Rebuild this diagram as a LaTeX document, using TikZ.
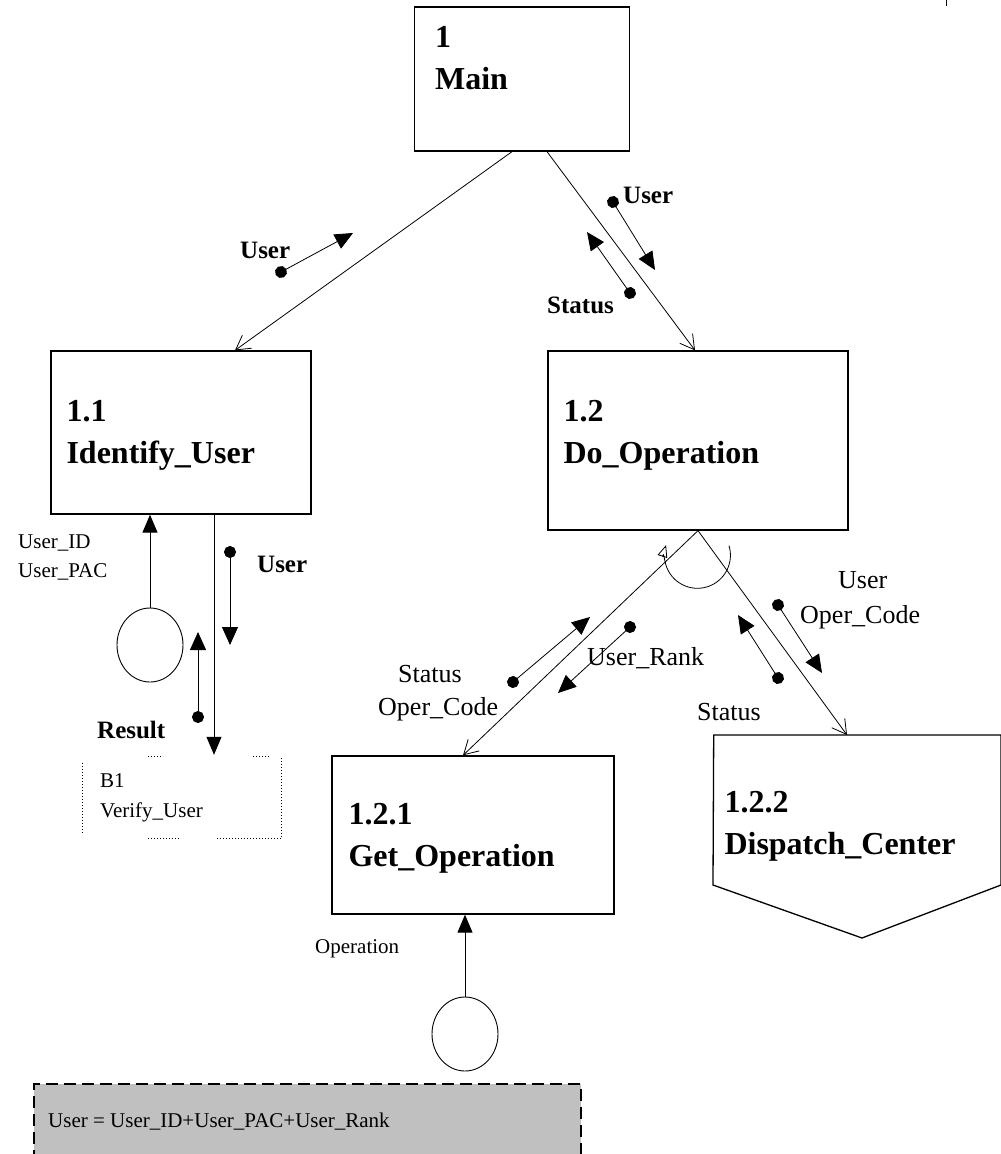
\documentclass[tikz,border=0pt]{standalone}
\usepackage{fontspec}
\setmainfont{Liberation Serif}
\usetikzlibrary{arrows.meta,calc,positioning,shapes.geometric}
\definecolor{dictgray}{RGB}{192,192,192}

\begin{document}
\begin{tikzpicture}
 [x=1pt,y=-1pt,
  module/.style={draw,line width=1.3pt,inner sep=0pt},
  modname/.style={anchor=base west,inner sep=0pt,font=\bfseries\fontsize{32}{32}\selectfont},
  flow/.style={anchor=base west,inner sep=0pt,font=\fontsize{26}{26}\selectfont},
  flowb/.style={flow,font=\bfseries\fontsize{25}{25}\selectfont},
  smalltext/.style={anchor=base west,inner sep=0pt,font=\fontsize{21}{21}\selectfont},
  call/.style={line width=0.8pt,-{Straight Barb[length=14pt,width=16pt]}},
  couple/.style={line width=0.8pt,shorten <=-6pt,{Circle[length=12pt]}-{Triangle[length=18pt,width=16pt]}},
  term/.style={draw,ellipse,line width=0.9pt,minimum width=66pt,minimum height=74pt,inner sep=0pt},
  datain/.style={line width=1pt,-{Triangle[length=18pt,width=15pt]}},
  libline/.style={dotted,line width=1pt},
  dictbox/.style={draw,fill=dictgray,line width=1.6pt,dash pattern=on 12pt off 6pt,inner sep=0pt}]
 \useasboundingbox (0,0) rectangle (1001,1154);
 \node[module,minimum width=215pt,minimum height=144pt] (main) at (522,79) {};
 \node[module,minimum width=260pt,minimum height=163pt] (idu) at (181,432.5) {};
 \node[module,minimum width=300pt,minimum height=179pt] (dop) at (698,440.5) {};
 \node[module,minimum width=282pt,minimum height=158pt] (gop) at (473,835) {};
 \node[inner sep=0pt] (dsp) at (713,735) {};
 \coordinate (dsp-in) at ($(dsp)+(134,0)$);
 \draw[module] (dsp) -- ++(288,0) -- ++(0,150) -- ++(-139,53) -- ++(-149,-53) -- cycle;
 \foreach \n/\dx/\dy/\num/\txt in {main/21/41/1/Main,idu/16/71/1.1/Identify\_User,dop/16/71/1.2/Do\_Operation,gop/17/69/1.2.1/Get\_Operation,dsp/12/78/1.2.2/Dispatch\_Center}
 {
  \node[modname] (\n-num) at ($(\n.north west)+(\dx,\dy)$) {\num};
  \node[modname] (\n-txt) at ($(\n.north west)+(\dx,\dy+42)$) {\txt};
 }
 \node[minimum width=199pt,minimum height=83pt,inner sep=0pt] (ver) at (181.5,796.5) {};
 \foreach \ax/\ay/\bx/\by in {148/756/163/756,253/756/270/756,148/838/180/838,217/838/282/838,82/763/82/833,281/758/281/838}
  \draw[libline] (\ax,\ay) -- (\bx,\by);
 \node[smalltext] (ver-num) at (100,787) {B1};
 \node[smalltext] (ver-txt) at (100,817) {Verify\_User};
 \node[term] (src1) at (150,645) {};
 \node[term] (src2) at (465,1034) {};
 \draw[call] ([xshift=-10pt]main.south) -- ([xshift=54pt]idu.north);
 \draw[call] ([xshift=25pt]main.south) -- ([xshift=-3pt]dop.north);
 \draw[call] (dop.south) -- ([xshift=-10pt]gop.north);
 \draw[call] (dop.south) -- (dsp-in);
 \draw[line width=0.8pt,-{Triangle[open,length=12pt,width=10pt]}] ($(dop.south)+(31,15)$) arc[start angle=17,end angle=-198,radius=33pt];
 \draw[datain] ([xshift=33pt]idu.south) -- ([xshift=33pt]idu.south |- ver.north);
 \draw[datain] (src1.north) -- (src1.north |- idu.south);
 \draw[datain] (src2.north) -- (src2.north |- gop.south);
 \foreach \n/\ax/\ay/\bx/\by in {c1/281/272/353/233,c2/613/202/655/270,c3/630/293/587/232,c4/230/552/230/645,c5/198/717/198/632,c6/513/682/590/617,c7/630/627/558/693,c8/778/605/822/673,c9/778/678/738/615}
 {
  \coordinate (\n a) at (\ax,\ay);
  \coordinate (\n b) at (\bx,\by);
  \draw[couple] (\n a) -- (\n b);
 }
 \node[flowb] (l1) at (240,258) {User};
 \node[flowb] (l2) at (623,203) {User};
 \node[flowb] (l3) at (547,313) {Status};
 \node[flowb] (l4) at (257,572) {User};
 \node[flowb] (l5) at (97,738) {Result};
 \node[flow] (l6) at (398,682) {Status};
 \node[flow] (l7) at (378,715) {Oper\_Code};
 \node[flow] (l8) at (587,665) {User\_Rank};
 \node[flow] (l9) at (838,588) {User};
 \node[flow] (l10) at (800,623) {Oper\_Code};
 \node[flow] (l11) at (697,720) {Status};
 \node[smalltext] (l12) at (18,548) {User\_ID};
 \node[smalltext] (l13) at (18,577) {User\_PAC};
 \node[smalltext] (l14) at (315,953) {Operation};
 \node[dictbox,anchor=north west,minimum width=547pt,minimum height=100pt] (dict) at (33,1083) {};
 \node[smalltext] (dict-txt) at (48,1127) {User = User\_ID+User\_PAC+User\_Rank};
 \draw[line width=1pt] (946,0) -- (946,6);
\end{tikzpicture}
\end{document}
